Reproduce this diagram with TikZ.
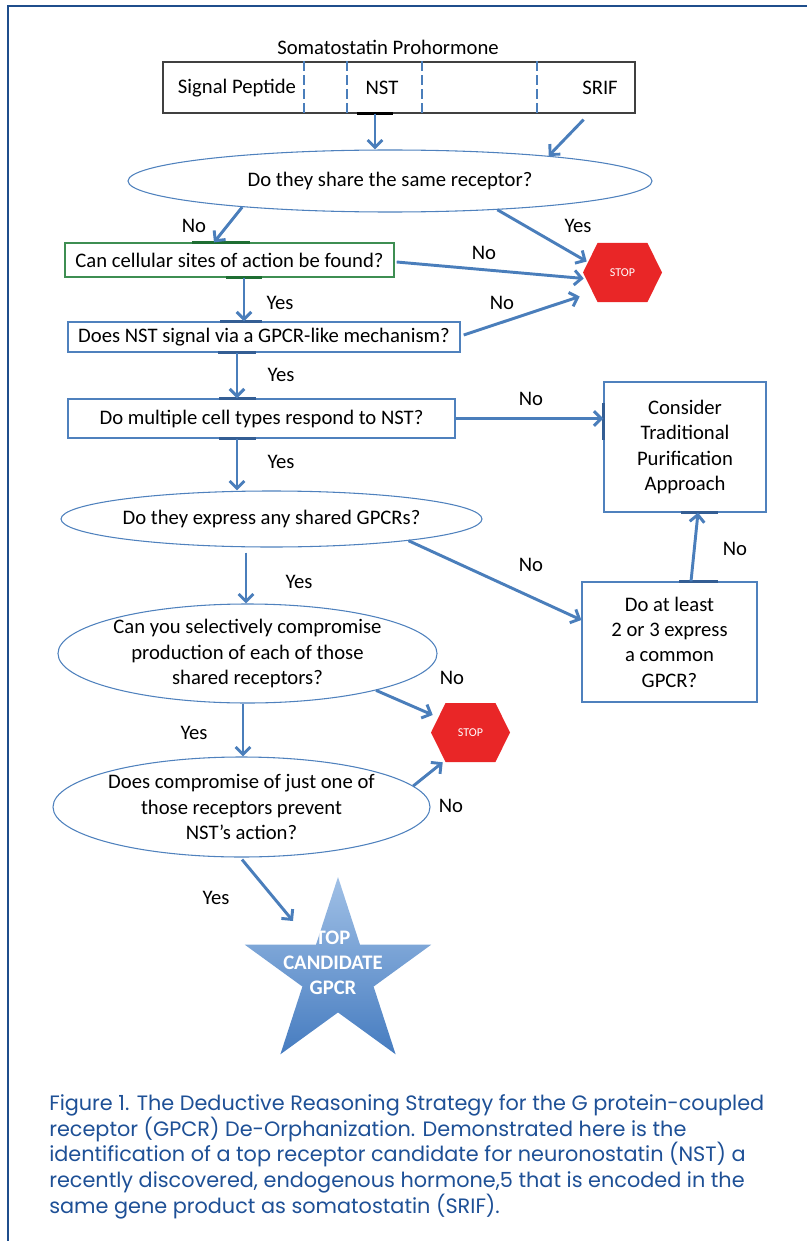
\documentclass[tikz,border=0pt]{standalone}
\usepackage{fontspec}
\setmainfont{Carlito}
\newfontfamily\capfont{Poppins}
\usetikzlibrary{arrows.meta,shapes.geometric}

\definecolor{linkblue}{RGB}{74,126,187}
\definecolor{boxblue}{RGB}{79,129,189}
\definecolor{barblue}{RGB}{52,94,148}
\definecolor{boxgreen}{RGB}{62,142,82}
\definecolor{bargreen}{RGB}{30,110,50}
\definecolor{stopred}{RGB}{233,38,39}
\definecolor{frameblue}{RGB}{31,78,140}
\definecolor{capblue}{RGB}{30,80,150}
\definecolor{startop}{RGB}{160,192,230}
\definecolor{starbot}{RGB}{70,124,192}

\begin{document}
\begin{tikzpicture}[
          x=0.75pt, y=-0.75pt,
          >={Straight Barb[length=5.5pt,width=11pt]},
          every node/.style={font=\fontsize{15.5}{19}\selectfont},
          qbox/.style={draw=boxblue, line width=1pt, inner sep=0,
                       align=center},
          qell/.style={ellipse, draw=boxblue, line width=0.8pt,
                       inner sep=0, align=center},
          link/.style={->, draw=linkblue, line width=2.2pt},
          cbar/.style={draw=barblue, line width=2pt},
          divider/.style={draw=linkblue, line width=2.2pt,
                          dash pattern=on 7pt off 3.5pt},
          stopsign/.style={minimum width=59.25pt, minimum height=44.25pt,
                       inner sep=0, text=white,
                       font=\fontsize{9}{10}\selectfont,
                       path picture={\fill[stopred]
                         (path picture bounding box.west)
                         -- ([xshift=10.9pt]path picture bounding box.north west)
                         -- ([xshift=-10.9pt]path picture bounding box.north east)
                         -- (path picture bounding box.east)
                         -- ([xshift=-10.9pt]path picture bounding box.south east)
                         -- ([xshift=10.9pt]path picture bounding box.south west)
                         -- cycle;}},
          frame/.style={draw=frameblue, line width=2.2pt}
        ]
        \useasboundingbox (0,0) rectangle (807,1241);
        \draw[frame] (8,1241) -- (8,6) -- (807,6);

        % prohormone
        \node (title) at (388,47) {Somatostatin Prohormone};
        \node[draw=black!75, line width=0.9pt, minimum width=354pt,
              minimum height=38.25pt, inner sep=0] (pro) at (399,87.5) {};
        \foreach \x in {304,347,422,537}
          \draw[divider] (\x,0 |- pro.north) -- (\x,0 |- pro.south);
        \node (sigpep) at (237,88) {Signal Peptide};
        \node (nst) at (382,88) {NST};
        \node (srif) at (600,88) {SRIF};

        % questions
        \node[qell, minimum width=393pt, minimum height=46.5pt] (ell1)
              at (390,181) {Do they share the same receptor?};
        \node[qbox, draw=boxgreen, minimum width=246.75pt,
              minimum height=25.5pt] (box2) at (229.5,260)
              {Can cellular sites of action be found?};
        \node[qbox, minimum width=294pt, minimum height=22.5pt] (box3)
              at (264,337) {Does NST signal via a GPCR-like mechanism?};
        \node[qbox, minimum width=290.25pt, minimum height=29.25pt] (box4)
              at (261.5,418.5) {Do multiple cell types respond to NST?};
        \node[qbox, minimum width=121.5pt, minimum height=97.5pt] (box5)
              at (685,447) {Consider\\Traditional\\Purification\\Approach};
        \node[qell, minimum width=314.25pt, minimum height=42pt] (ell6)
              at (271.5,519) {Do they express any shared GPCRs?};
        \node[qbox, minimum width=131.25pt, minimum height=90pt] (box7)
              at (669.5,642) {Do at least\\2 or 3 express\\a common\\GPCR?};
        \node[qell, minimum width=266.25pt, minimum height=74.25pt] (ell8)
              at (247.5,653.5) {Can you selectively compromise\\production
              of each of those\\shared receptors?};
        \node[qell, minimum width=242.25pt, minimum height=75pt] (ell9)
              at (241.5,807) {Does compromise of just one of\\those receptors
              prevent\\NST's action?};

        % stop signs and star
        \node[stopsign] (stop1) at (622.5,272.5) {STOP};
        \node[stopsign] (stop2) at (470.5,732.5) {STOP};
        \node[star, star points=5, star point ratio=2.618,
              minimum size=147pt, inner sep=0,
              top color=startop, bottom color=starbot] (star)
              at (338,975) {};
        \node[text=white, align=center,
              font=\fontsize{15.5}{18.75}\selectfont\bfseries] (startxt)
              at (333,963) {TOP\\CANDIDATE\\GPCR};

        % connection bars
        \draw[cbar, draw=black] ([shift={(-42,0)}]pro.south) -- ++(36,0);
        \draw[cbar, draw=bargreen] ([shift={(-37.5,0)}]box2.north) -- ++(58,0);
        \draw[cbar, draw=bargreen] ([shift={(-3.5,0)}]box2.south) -- ++(36,0);
        \draw[cbar] ([shift={(-44,0)}]box3.north) -- ++(42,0);
        \draw[cbar] ([shift={(-46,0)}]box3.south) -- ++(38,0);
        \draw[cbar] ([shift={(-42.5,0)}]box4.north) -- ++(37,0);
        \draw[cbar] ([shift={(-42.5,0)}]box4.south) -- ++(37,0);
        \draw[cbar] ([shift={(-4,0)}]box5.south) -- ++(37,0);
        \draw[cbar] ([shift={(0,-44)}]box5.west) -- ++(0,37);
        \draw[cbar] ([shift={(9.5,0)}]box7.north) -- ++(39,0);

        % arrows
        \draw[link] ([shift={(-24,0)}]pro.south) -- ([shift={(-15,0)}]ell1.north);
        \draw[link] ([shift={(-52,6)}]pro.south east) -- (ell1.9);
        \draw[link] (ell1.190) -- ([shift={(-15.5,0)}]box2.north);
        \draw[link] (ell1.345) -- ([shift={(4,-11)}]stop1.west);
        \draw[link] ([shift={(2,2)}]box2.east) -- ([shift={(1,6)}]stop1.west);
        \draw[link] ([shift={(14.5,0)}]box2.south) -- ([shift={(-20,0)}]box3.north);
        \draw[link] ([shift={(3,-2)}]box3.east) -- ([shift={(-3,24)}]stop1.west);
        \draw[link] ([shift={(-27,0)}]box3.south) -- ([shift={(-24.5,0)}]box4.north);
        \draw[link] (box4.east) -- (box4.east -| box5.west);
        \draw[link] ([shift={(-24.5,0)}]box4.south) -- ([shift={(-34.5,0)}]ell6.north);
        \draw[link] (ell6.351) -- ([shift={(0,-22)}]box7.west);
        \draw[link] ([shift={(21.5,0)}]box7.north) -- ([shift={(13,0)}]box5.south);
        \draw[link] ([shift={(-25.5,5)}]ell6.south) -- ([shift={(-1.5,0)}]ell8.north);
        \draw[link] (ell8.344) -- ([shift={(2,-17.5)}]stop2.west);
        \draw[link] ([shift={(-4.5,0)}]ell8.south) -- ([shift={(1.5,0)}]ell9.north);
        \draw[link] (ell9.7) -- ([shift={(12,0)}]stop2.south west);
        \draw[link] ([shift={(0.5,2)}]ell9.south) -- ([shift={(-45,-54)}]star.center);

        % answers
        \node (no1) at (194,226) {No};
        \node (yes1) at (578,226) {Yes};
        \node (no2) at (484,253) {No};
        \node (yes2) at (280,303) {Yes};
        \node (no3) at (502,303) {No};
        \node (yes3) at (281,375) {Yes};
        \node (no4) at (531,399) {No};
        \node (yes4) at (281,462) {Yes};
        \node (no5) at (531,565) {No};
        \node (no6) at (735,549) {No};
        \node (yes5) at (299,582) {Yes};
        \node (no7) at (452,678) {No};
        \node (yes6) at (194,733) {Yes};
        \node (no8) at (451,806) {No};
        \node (yes7) at (216,898) {Yes};

        % caption
        \node[anchor=north west, align=left, text=capblue, inner sep=0,
              font=\capfont\fontsize{15.6}{19.4}\selectfont] (cap) at (49,1094)
              {Figure 1. The Deductive Reasoning Strategy for the G protein-coupled\\
               receptor (GPCR) De-Orphanization. Demonstrated here is the\\
               identification of a top receptor candidate for neuronostatin (NST) a\\
               recently discovered, endogenous hormone,5 that is encoded in the\\
               same gene product as somatostatin (SRIF).};
      \end{tikzpicture}
\end{document}
